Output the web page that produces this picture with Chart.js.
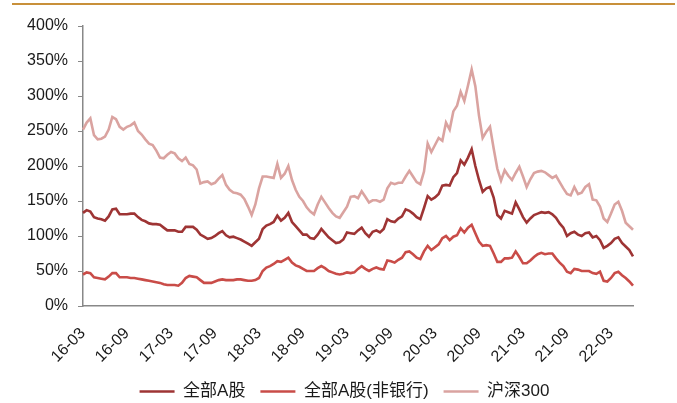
<!DOCTYPE html>
<html>
<head>
<meta charset="utf-8">
<script src="https://cdn.jsdelivr.net/npm/chart.js@4.4.0/dist/chart.umd.min.js"></script>
<style>
  html, body { margin: 0; padding: 0; background: #fff; }
  #wrap { position: relative; width: 677px; height: 403px; }
  #topline { position: absolute; left: 12px; right: 2px; top: 3px; height: 2px; background: #C8903A; }
</style>
</head>
<body>
<div id="wrap">
  <div id="topline"></div>
  <canvas id="peChart" width="677" height="403"></canvas>
</div>
<script>
// semimonthly points, 2016-03 .. 2022-05
var startYear = 2016, startMonth = 3;
var tickLabels = ['16-03', '16-09', '17-03', '17-09', '18-03', '18-09', '19-03',
                  '19-09', '20-03', '20-09', '21-03', '21-09', '22-03'];

var allA = [133,137,135,127,125,124,122,128,138,139,131,131,131,132,132,127,123,121,118,117,
            117,116,112,108,108,108,106,106,113,113,113,109,102,99,96,97,100,104,107,101,
            98,99,97,95,92,89,86,91,96,110,115,117,120,129,122,126,133,120,114,108,
            102,102,97,96,102,110,104,98,94,90,91,95,105,104,103,108,112,104,99,106,
            108,105,110,124,121,120,125,128,138,136,132,127,124,140,157,152,155,160,172,173,
            172,184,190,208,202,212,224,200,180,163,168,170,155,130,125,136,134,132,148,138,
            127,119,125,130,132,134,133,134,131,126,118,112,100,104,106,102,100,104,105,98,
            100,94,83,86,90,96,98,90,85,80,71];

var allAExBank = [45,48,47,41,40,39,38,42,47,47,41,41,41,40,40,39,38,37,36,35,
                  34,33,31,30,30,30,29,33,40,43,42,41,37,33,33,33,35,37,38,37,
                  37,37,38,38,37,36,36,37,40,50,55,57,60,64,63,66,69,62,58,56,
                  53,50,50,50,54,57,54,50,48,46,45,46,48,47,48,53,57,53,50,53,
                  55,53,52,65,64,62,66,69,77,78,74,69,67,78,86,80,84,88,97,100,
                  94,99,101,111,105,112,116,104,92,86,87,86,75,63,63,68,68,69,78,70,
                  61,61,65,70,74,76,74,75,75,68,62,57,49,47,53,52,50,50,50,47,
                  46,49,36,35,40,47,49,44,40,35,29];

var hs300 = [252,262,268,244,238,239,242,252,270,267,256,252,256,258,262,250,245,238,232,230,
             222,212,211,216,220,218,211,207,212,203,201,195,175,177,178,174,176,182,187,173,
             166,162,161,159,153,142,130,145,168,185,185,184,183,203,183,189,200,180,166,156,
             150,141,135,131,145,156,148,140,133,128,126,134,142,156,157,154,164,156,148,151,
             151,149,152,168,176,174,176,176,185,193,185,177,174,192,232,220,230,240,236,262,
             252,278,286,306,293,315,338,314,272,240,249,256,225,196,179,194,186,180,190,199,
             185,170,181,190,192,193,191,187,183,186,177,168,160,158,170,160,162,170,174,152,
             151,142,125,120,132,145,149,136,119,114,109];

var labels = [];
for (var i = 0; i < hs300.length; i++) {
    var m = startMonth - 1 + Math.floor(i / 2);
    var y = startYear + Math.floor(m / 12);
    var mm = (m % 12) + 1;
    labels.push(String(y).slice(2) + '-' + (mm < 10 ? '0' + mm : mm));
}

var font = "'Liberation Sans', Arial, 'Noto Sans CJK SC', sans-serif";
Chart.defaults.font.family = font;
Chart.defaults.font.size = 16;
Chart.defaults.color = '#1a1a1a';

// nudge the legend a bit right, like the original
var shiftLegend = {
    id: 'shiftLegend',
    afterLayout: function (chart) {
        chart.legend.left += 28;
        chart.legend.right += 28;
    }
};

var ctx = document.getElementById('peChart').getContext('2d');
var peChart = new Chart(ctx, {
    type: 'line',
    data: {
        labels: labels,
        datasets: [{
            label: '全部A股',
            data: allA,
            borderColor: '#9E3434',
            backgroundColor: '#9E3434',
            borderWidth: 2.6,
            pointRadius: 0,
            tension: 0
        }, {
            label: '全部A股(非银行)',
            data: allAExBank,
            borderColor: '#C94C48',
            backgroundColor: '#C94C48',
            borderWidth: 2.6,
            pointRadius: 0,
            tension: 0
        }, {
            label: '沪深300',
            data: hs300,
            borderColor: '#DAA3A0',
            backgroundColor: '#DAA3A0',
            borderWidth: 2.6,
            pointRadius: 0,
            tension: 0
        }]
    },
    plugins: [shiftLegend],
    options: {
        responsive: false,
        animation: false,
        layout: { padding: { top: 26, right: 44, bottom: -7, left: 0 } },
        plugins: {
            legend: {
                position: 'bottom',
                labels: {
                    usePointStyle: true,
                    pointStyle: 'line',
                    pointStyleWidth: 35,
                    boxWidth: 35,
                    boxHeight: 14,
                    padding: 15,
                    font: { size: 17 }
                }
            },
            tooltip: { enabled: false }
        },
        scales: {
            x: {
                grid: { drawOnChartArea: false, drawTicks: false },
                border: { color: '#888', width: 1.5 },
                ticks: {
                    autoSkip: false,
                    maxRotation: 45,
                    minRotation: 45,
                    padding: 18,
                    callback: function (v, i) {
                        return i % 12 === 0 ? tickLabels[i / 12] : null;
                    }
                },
                afterFit: function (s) { s.height = 62; }
            },
            y: {
                min: 0,
                max: 400,
                grid: { drawOnChartArea: false, tickLength: 5, color: '#888' },
                border: { color: '#888', width: 1.5 },
                ticks: {
                    stepSize: 50,
                    padding: 10,
                    callback: function (v) { return v + '%'; }
                },
                afterFit: function (s) { s.width = 83; }
            }
        }
    }
});
</script>
</body>
</html>
